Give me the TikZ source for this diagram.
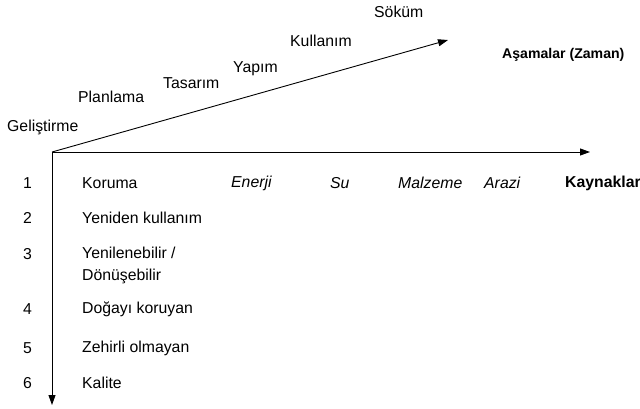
\documentclass[tikz,border=0pt]{standalone}
\usepackage{fontspec}
\setmainfont{Liberation Sans}
\usetikzlibrary{arrows.meta,positioning}
\tikzset{
 lbl/.style={inner sep=0pt,anchor=west},
 axis/.style={line width=.9pt,-{Triangle[length=10pt,width=7pt]}},
}
\begin{document}
\begin{tikzpicture}[x=1pt,y=-1pt,font=\fontsize{15.8}{22}\selectfont]
\useasboundingbox (0,0) rectangle (640,408);
% axes
\coordinate (o) at (52,152);
\coordinate (tEnd) at (448,40);
\coordinate (rEnd) at (590,152);
\coordinate (dEnd) at (52,405);
\draw[axis] (o) -- (tEnd);
\draw[axis] (o) -- (rEnd);
\draw[axis] (o) -- (dEnd);
% phases
\node[lbl] (gel) at (7,127) {Geliştirme};
\node[lbl] (pln) at (78,97) {Planlama};
\node[lbl] (tas) at (163,83) {Tasarım};
\node[lbl] (yap) at (233,69) {Yapım};
\node[lbl] (kul) at (290,41) {Kullanım};
\node[lbl] (sok) at (374,12) {Söküm};
\node[lbl,font=\fontsize{14.1}{16}\selectfont\bfseries] (asm) at (502,55) {Aşamalar (Zaman)};
% resources
\node[lbl,font=\fontsize{15.8}{22}\selectfont\itshape] (ene) at (231,183) {Enerji};
\node[lbl,font=\fontsize{15.8}{22}\selectfont\itshape] (su) at (330,183) {Su};
\node[lbl,font=\fontsize{15.8}{22}\selectfont\itshape] (mal) at (398,183) {Malzeme};
\node[lbl,font=\fontsize{15.8}{22}\selectfont\itshape] (ara) at (484,183) {Arazi};
\node[lbl,font=\fontsize{15.8}{22}\selectfont\bfseries] (kay) at (565,183) {Kaynaklar};
% priorities
\foreach \n/\y in {1/183,2/218,3/254,4/309,5/348,6/383}
 \node[lbl] (n\n) at (23,\y) {\n};
\node[lbl] (kor) at (82,183) {Koruma};
\node[lbl] (yen) at (82,218) {Yeniden kullanım};
\node[lbl,align=left] (don) at (82,265) {Yenilenebilir /\\Dönüşebilir};
\node[lbl] (dog) at (82,309) {Doğayı koruyan};
\node[lbl] (zeh) at (82,348) {Zehirli olmayan};
\node[lbl] (kal) at (82,383) {Kalite};
\end{tikzpicture}
\end{document}
